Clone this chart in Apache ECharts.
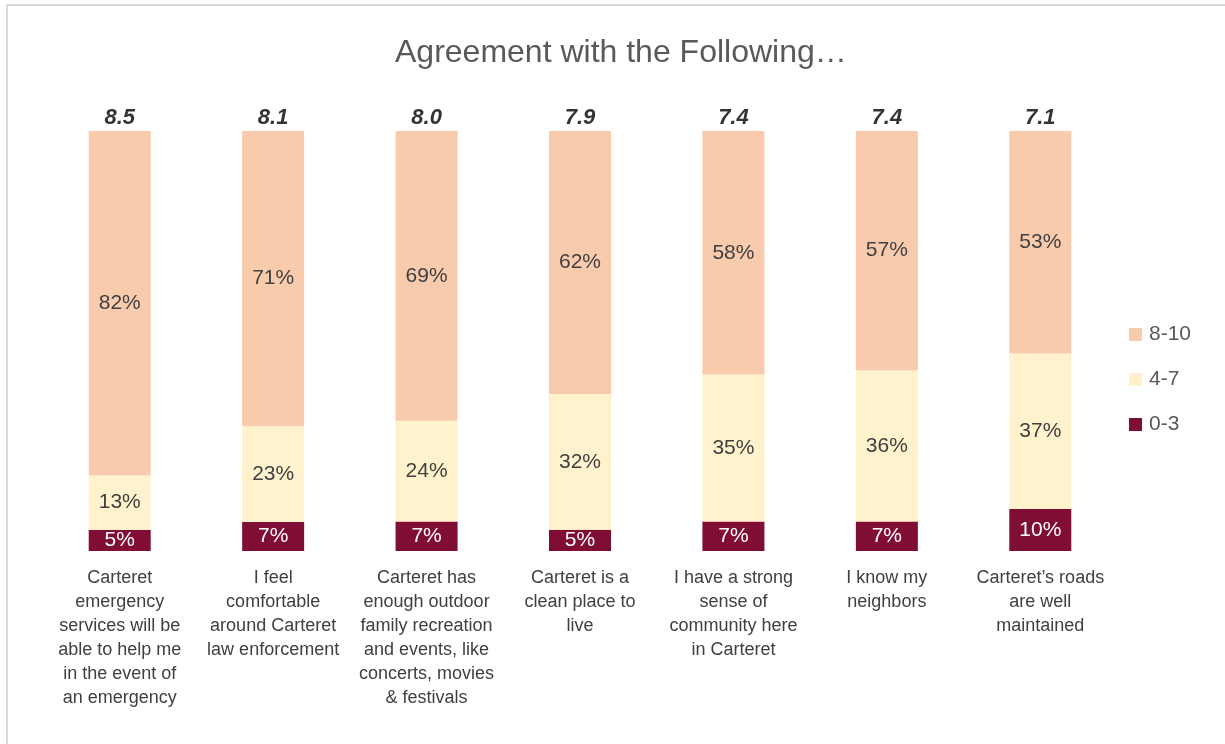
<!DOCTYPE html>
<html>
<head>
<meta charset="utf-8">
<script src="https://cdn.jsdelivr.net/npm/echarts@6/dist/echarts.min.js"></script>
<style>
html,body{margin:0;padding:0;background:#fff;}
#chart{width:1225px;height:744px;}
</style>
</head>
<body>
<div id="chart"></div>
<script>
const categories = [
  "Carteret\nemergency\nservices will be\nable to help me\nin the event of\nan emergency",
  "I feel\ncomfortable\naround Carteret\nlaw enforcement",
  "Carteret has\nenough outdoor\nfamily recreation\nand events, like\nconcerts, movies\n& festivals",
  "Carteret is a\nclean place to\nlive",
  "I have a strong\nsense of\ncommunity here\nin Carteret",
  "I know my\nneighbors",
  "Carteret\u2019s roads\nare well\nmaintained"
];
const low = [5, 7, 7, 5, 7, 7, 10];     // 0-3
const mid = [13, 23, 24, 32, 35, 36, 37]; // 4-7
const high = [82, 71, 69, 62, 58, 57, 53]; // 8-10
const scores = ["8.5", "8.1", "8.0", "7.9", "7.4", "7.4", "7.1"];

const totals = low.map((v, i) => v + mid[i] + high[i]);
const norm = (arr) => arr.map((v, i) => ({ value: v / totals[i] * 100, raw: v }));

const labelFont = "'Liberation Sans', Arial, sans-serif";

const chart = echarts.init(document.getElementById('chart'), null, { renderer: 'canvas' });
chart.setOption({
  animation: false,
  backgroundColor: '#ffffff',
  graphic: [{
    type: 'rect',
    shape: { x: 7, y: 5, width: 1300, height: 800 },
    style: { fill: 'none', stroke: '#d9d9d9', lineWidth: 2 },
    silent: true
  }],
  title: {
    text: 'Agreement with the Following\u2026',
    left: 390,
    top: 32,
    textStyle: { fontFamily: labelFont, fontSize: 32, fontWeight: 'normal', color: '#595959' }
  },
  legend: {
    orient: 'vertical',
    left: 1124,
    top: 319,
    itemWidth: 13,
    itemHeight: 13,
    itemGap: 24,
    icon: 'rect',
    data: ['8-10', '4-7', '0-3'],
    textStyle: { fontFamily: labelFont, fontSize: 21, color: '#595959', padding: [0, 0, 0, 2] }
  },
  grid: { left: 43, right: 108, top: 131, bottom: 193, containLabel: false },
  xAxis: {
    type: 'category',
    data: categories,
    axisLine: { show: false },
    axisTick: { show: false },
    axisLabel: {
      interval: 0,
      margin: 15,
      fontFamily: labelFont,
      fontSize: 18,
      lineHeight: 24,
      color: '#404040',
      align: 'center'
    }
  },
  yAxis: {
    type: 'value',
    min: 0,
    max: 100,
    show: false,
    splitLine: { show: false }
  },
  series: [
    {
      name: '0-3', type: 'bar', stack: 's', barWidth: 62,
      data: norm(low),
      itemStyle: { color: '#800D33' },
      label: { show: true, position: 'inside', formatter: p => p.data.raw + '%', color: '#ffffff', fontFamily: labelFont, fontSize: 21 }
    },
    {
      name: '4-7', type: 'bar', stack: 's', barWidth: 62,
      data: norm(mid),
      itemStyle: { color: '#FFF2CC' },
      label: { show: true, position: 'inside', formatter: p => p.data.raw + '%', color: '#404040', fontFamily: labelFont, fontSize: 21 }
    },
    {
      name: '8-10', type: 'bar', stack: 's', barWidth: 62,
      data: norm(high),
      itemStyle: { color: '#F8CBAD' },
      label: { show: true, position: 'inside', formatter: p => p.data.raw + '%', color: '#404040', fontFamily: labelFont, fontSize: 21 }
    },
    {
      name: 'score', type: 'scatter', symbolSize: 0,
      data: scores.map((s, i) => ({ value: [i, 100], score: s })),
      label: {
        show: true, position: 'top', distance: 2,
        formatter: p => p.data.score,
        color: '#000000', fontFamily: labelFont, fontSize: 22, fontWeight: 'bold', fontStyle: 'italic'
      },
      tooltip: { show: false }
    }
  ]
});
</script>
</body>
</html>
